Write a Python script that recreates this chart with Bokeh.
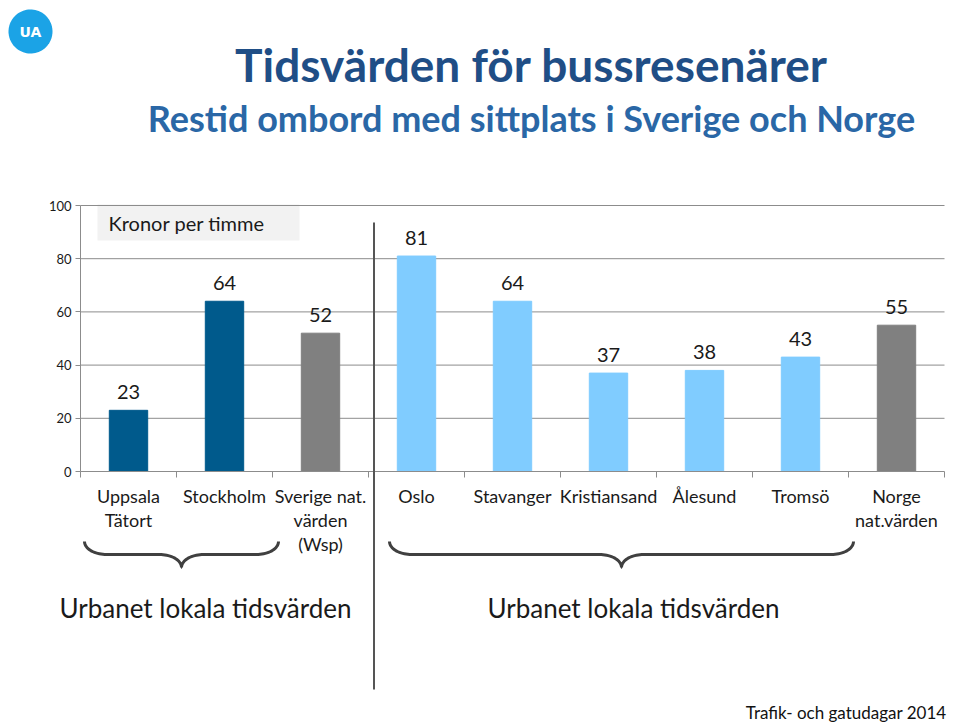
import numpy as np
from bokeh.plotting import figure
from bokeh.models import (ColumnDataSource, FixedTicker, Label, LabelSet,
                          BoxAnnotation, PolyAnnotation)
from bokeh.core.properties import value
from bokeh.embed import file_html
from bokeh.resources import INLINE

# ---------------- data ----------------
categories = ["Uppsala\nTätort", "Stockholm", "Sverige nat.\nvärden\n(Wsp)",
              "Oslo", "Stavanger", "Kristiansand", "Ålesund", "Tromsö",
              "Norge\nnat.värden"]
values = [23, 64, 52, 81, 64, 37, 38, 43, 55]
groups = ["se_local", "se_local", "national", "no_local", "no_local",
          "no_local", "no_local", "no_local", "national"]
y_ticks = [0, 20, 40, 60, 80, 100]

title = "Tidsvärden för bussresenärer"
subtitle = "Restid ombord med sittplats i Sverige och Norge"
unit_label = "Kronor per timme"
group_label = "Urbanet lokala tidsvärden"
footer = "Trafik- och gatudagar 2014"

palette = {"se_local": "#005A8C", "national": "#808080", "no_local": "#80CCFF"}
FONT = "Lato"

# ---------------- geometry helpers (page pixels -> data) ----------------
W, H = 960, 723
FL, FR, FT, FB = 80, 944, 205, 471   # plot-area edges in page px
n = len(categories)
def px2x(px):
    return -0.5 + (px - FL) * n / (FR - FL)
def py2y(py):
    return (FB - py) * 100.0 / (FB - FT)

x = list(range(n))
colors = [palette[g] for g in groups]
src = ColumnDataSource(dict(x=x, top=values, color=colors,
                            txt=[str(v) for v in values]))

p = figure(width=W, height=H, output_backend="svg", toolbar_location=None,
           x_range=(px2x(0), px2x(W)), y_range=(py2y(H), py2y(0)),
           min_border=0)
p.outline_line_color = None
p.background_fill_color = "white"
p.border_fill_color = "white"
p.xgrid.visible = False
p.ygrid.visible = False

# grid lines across the plot area only
p.segment(x0=-0.5, x1=n - 0.5, y0=y_ticks[1:], y1=y_ticks[1:],
          line_color="#8C8C8C", line_width=1)

# bars
p.vbar(x="x", top="top", width=0.4, color="color", source=src)

labels = LabelSet(x="x", y="top", text="txt", source=src, text_align="center",
                  text_baseline="alphabetic", y_offset=11,
                  text_font=value(FONT), text_font_size="20px",
                  text_color="#1a1a1a")
p.add_layout(labels)

# y axis
p.yaxis.fixed_location = -0.5
p.yaxis.bounds = (y_ticks[0], y_ticks[-1])
p.yaxis.ticker = FixedTicker(ticks=y_ticks)
p.yaxis.axis_line_color = "#8C8C8C"
p.yaxis.major_tick_line_color = "#8C8C8C"
p.yaxis.major_tick_out = 5
p.yaxis.major_tick_in = 0
p.yaxis.minor_tick_line_color = None
p.yaxis.major_label_text_font = FONT
p.yaxis.major_label_text_font_size = "13px"
p.yaxis.major_label_text_color = "#1a1a1a"
p.yaxis.major_label_standoff = 4

# x axis
p.xaxis.fixed_location = 0
p.xaxis.bounds = (-0.5, n - 0.5)
p.xaxis.ticker = FixedTicker(ticks=x, minor_ticks=[i - 0.5 for i in range(n + 1)])
p.xaxis.major_label_overrides = {i: c for i, c in enumerate(categories)}
p.xaxis.axis_line_color = "#8C8C8C"
p.xaxis.major_tick_line_color = None
p.xaxis.major_tick_out = 0
p.xaxis.major_tick_in = 0
p.xaxis.minor_tick_line_color = "#8C8C8C"
p.xaxis.minor_tick_out = 6
p.xaxis.minor_tick_in = 0
p.xaxis.major_label_text_font = FONT
p.xaxis.major_label_text_font_size = "18px"
p.xaxis.major_label_text_color = "#1a1a1a"
p.xaxis.major_label_text_line_height = 1.1
p.xaxis.major_label_standoff = 7

# "Kronor per timme" box
p.add_layout(BoxAnnotation(left=px2x(97), right=px2x(299), top=py2y(204),
                           bottom=py2y(240), fill_color="#F2F2F2",
                           fill_alpha=1, line_color=None, level="underlay"))
p.add_layout(Label(x=px2x(108), y=py2y(222), text=unit_label,
                   text_baseline="middle", text_font=FONT,
                   text_font_size="20px", text_color="#1a1a1a"))

# separator line
p.add_layout(BoxAnnotation(left=px2x(372.5), right=px2x(374.5), top=py2y(222),
                           bottom=py2y(689), fill_color="#555555",
                           fill_alpha=1, line_color=None))

# braces
def brace(xl, xr, ytop, ybot, a=22, w=3.0):
    b = (ybot - ytop) / 2.0
    xm = (xl + xr) / 2.0
    ymid = ytop + b
    t = np.linspace(0, np.pi / 2, 20)
    sx1 = xl + a * (1 - np.cos(t)); sy1 = ytop + b * np.sin(t)
    sx2 = xm - a + a * np.sin(t);  sy2 = ymid + b * (1 - np.cos(t))
    lx = np.concatenate([sx1, sx2]); ly = np.concatenate([sy1, sy2])
    cx = np.concatenate([lx, (2 * xm - lx)[::-1][1:]])
    cy = np.concatenate([ly, ly[::-1][1:]])
    dx = np.gradient(cx); dy = np.gradient(cy)
    L = np.hypot(dx, dy); L[L == 0] = 1
    nx, ny = -dy / L, dx / L
    ox = np.concatenate([cx + nx * w / 2, (cx - nx * w / 2)[::-1]])
    oy = np.concatenate([cy + ny * w / 2, (cy - ny * w / 2)[::-1]])
    return [px2x(v) for v in ox], [py2y(v) for v in oy]

for (xl, xr) in [(84, 278), (389, 853)]:
    bx, by = brace(xl, xr, 541, 567)
    p.add_layout(PolyAnnotation(xs=bx, ys=by, fill_color="#404040",
                                fill_alpha=1, line_color=None))

for cx in [205, 633]:
    p.add_layout(Label(x=px2x(cx), y=py2y(607), text=group_label,
                       text_align="center", text_baseline="middle",
                       text_font=FONT, text_font_size="26px",
                       text_color="#1a1a1a"))

# titles
p.add_layout(Label(x=px2x(531), y=py2y(64), text=title, text_align="center",
                   text_baseline="middle", text_font=FONT,
                   text_font_style="bold", text_font_size="46px",
                   text_color="#1F4E86"))
p.add_layout(Label(x=px2x(531), y=py2y(117), text=subtitle,
                   text_align="center", text_baseline="middle",
                   text_font=FONT, text_font_style="bold",
                   text_font_size="36px", text_color="#2A67A6"))

# footer
p.add_layout(Label(x=px2x(946), y=py2y(712), text=footer, text_align="right",
                   text_baseline="middle", text_font=FONT,
                   text_font_size="17px", text_color="#111111"))

# logo
tt = np.linspace(0, 2 * np.pi, 80)
p.add_layout(PolyAnnotation(xs=[px2x(30 + 22 * np.cos(v)) for v in tt],
                            ys=[py2y(31 + 22 * np.sin(v)) for v in tt],
                            fill_color="#1BA3E6", fill_alpha=1,
                            line_color=None))
p.add_layout(Label(x=px2x(30), y=py2y(31), text="UA", text_align="center",
                   text_baseline="middle", text_font="DejaVu Sans",
                   text_font_style="bold", text_font_size="14px",
                   text_color="white"))

open("out.html", "w").write(file_html(p, INLINE))
